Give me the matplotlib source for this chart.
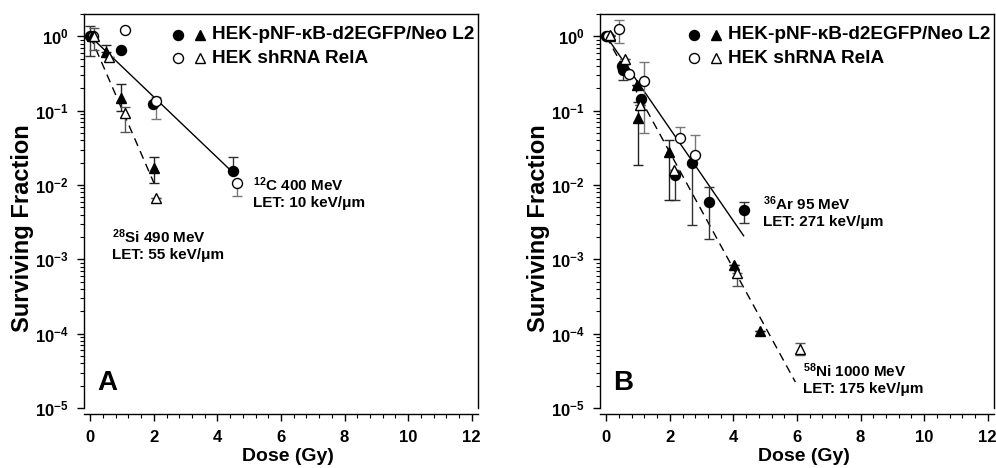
import numpy as np
import matplotlib
matplotlib.use("Agg")
import matplotlib.pyplot as plt
from matplotlib.ticker import LogLocator, MultipleLocator, NullFormatter

nan = np.nan
plt.rcParams['font.family'] = ['Liberation Sans', 'DejaVu Sans']
plt.rcParams['font.weight'] = 'bold'
plt.rcParams['mathtext.fontset'] = 'custom'
plt.rcParams['mathtext.rm'] = 'Liberation Sans:bold'
plt.rcParams['mathtext.bf'] = 'Liberation Sans:bold'
plt.rcParams['mathtext.it'] = 'Liberation Sans:bold'
plt.rcParams['mathtext.default'] = 'bf'

# ---------------- Panel A: 12C (circles) and 28Si (triangles) ----------------
A_C_fill_dose = [0.0, 0.98, 1.98, 4.48]
A_C_fill_sf = [1.0, 0.66, 0.123, 0.0155]
A_C_fill_lo = [0.55, nan, nan, nan]
A_C_fill_hi = [1.40, nan, nan, 0.024]

A_C_open_dose = [0.08, 1.1, 2.08, 4.6]
A_C_open_sf = [1.0, 1.23, 0.136, 0.0108]
A_C_open_lo = [nan, nan, 0.078, 0.0072]
A_C_open_hi = [nan, nan, 0.155, nan]

A_Si_fill_dose = [0.05, 0.48, 0.98, 2.0]
A_Si_fill_sf = [1.0, 0.62, 0.15, 0.017]
A_Si_fill_lo = [nan, nan, 0.10, 0.0105]
A_Si_fill_hi = [nan, 0.76, 0.23, 0.024]

A_Si_open_dose = [0.1, 0.59, 1.08, 2.08]
A_Si_open_sf = [1.0, 0.53, 0.092, 0.0066]
A_Si_open_lo = [0.65, nan, 0.052, nan]
A_Si_open_hi = [1.30, nan, 0.112, nan]

# fits: SF = exp(-alpha * D) over [0, Dmax]
A_fit_alpha = [0.94, 2.27]
A_fit_dmax = [4.48, 2.0]

# ---------------- Panel B: 36Ar (circles) and 58Ni (triangles) ----------------
B_Ar_fill_dose = [0.0, 0.5, 0.52, 1.09, 2.15, 2.7, 3.22, 4.32]
B_Ar_fill_sf = [1.0, 0.40, 0.35, 0.142, 0.0137, 0.0196, 0.006, 0.0046]
B_Ar_fill_lo = [nan, nan, 0.26, nan, 0.0063, 0.0029, 0.0019, 0.0031]
B_Ar_fill_hi = [nan, nan, nan, nan, nan, nan, 0.0095, 0.006]

B_Ar_open_dose = [0.05, 0.41, 0.7, 1.2, 2.31, 2.8]
B_Ar_open_sf = [1.0, 1.24, 0.31, 0.25, 0.043, 0.025]
B_Ar_open_lo = [nan, 0.81, nan, 0.05, nan, nan]
B_Ar_open_hi = [nan, 1.67, nan, 0.45, 0.06, 0.047]

B_Ni_fill_dose = [0.1, 0.55, 0.97, 1.0, 1.96, 4.03, 4.85]
B_Ni_fill_sf = [1.0, 0.43, 0.22, 0.079, 0.028, 0.00085, 0.00011]
B_Ni_fill_lo = [nan, nan, nan, 0.0187, 0.0063, nan, nan]
B_Ni_fill_hi = [nan, nan, nan, 0.13, 0.04, nan, nan]

B_Ni_open_dose = [0.13, 0.6, 1.07, 2.12, 4.12, 6.1]
B_Ni_open_sf = [1.03, 0.49, 0.119, 0.0158, 0.00065, 6.2e-5]
B_Ni_open_lo = [nan, nan, nan, nan, 0.00044, 5.2e-5]
B_Ni_open_hi = [nan, nan, nan, nan, nan, 7.4e-5]

B_fit_alpha = [1.43, 1.80]
B_fit_dmax = [4.32, 5.95]

legend_labels = ["HEK-pNF-\u03baB-d2EGFP/Neo L2", "HEK shRNA RelA"]
x_ticks = [0, 2, 4, 6, 8, 10, 12]

fig = plt.figure(figsize=(9.96, 4.68), dpi=100)
W, H = 996, 468


def add_axes(x0, y0, x1, y1):
    return fig.add_axes([x0 / W, 1 - y1 / H, (x1 - x0) / W, (y1 - y0) / H])


axA = add_axes(84, 14, 478, 408)
axB = add_axes(600, 14, 994, 408)

MS = 7.2


def series(ax, d, sf, lo, hi, marker, filled, ecolor):
    d = np.array(d); sf = np.array(sf); lo = np.array(lo); hi = np.array(hi)
    low = np.where(np.isnan(lo), 0, sf - lo)
    up = np.where(np.isnan(hi), 0, hi - sf)
    ax.errorbar(d, sf, yerr=[low, up], fmt='none', ecolor=ecolor,
                elinewidth=1.0, capsize=3.5, capthick=1.0, zorder=2)
    ax.plot(d, sf, linestyle='none', marker=marker, markersize=MS,
            markerfacecolor='black' if filled else 'white',
            markeredgecolor='black', markeredgewidth=1.0, zorder=3)


def fits(ax, alphas, dmaxs):
    styles = ['-', '--']
    for a, dm, ls in zip(alphas, dmaxs, styles):
        dd = np.linspace(0, dm, 50)
        line, = ax.plot(dd, np.exp(-a * dd), color='black', lw=1.0, zorder=1)
        if ls == '--':
            line.set_dashes((6, 4))


def style(ax, letter):
    ax.set_yscale('log')
    ax.set_xlim(-0.2, 12.2)
    ax.set_ylim(1e-5, 2.0)
    ax.set_xticks(x_ticks)
    ax.set_xticklabels([str(t) for t in x_ticks])
    ax.xaxis.set_minor_locator(MultipleLocator(0.4))
    ax.yaxis.set_major_locator(LogLocator(base=10, numticks=10))
    ax.yaxis.set_minor_locator(LogLocator(base=10, subs=np.arange(2, 10), numticks=50))
    ax.yaxis.set_minor_formatter(NullFormatter())
    ax.tick_params(axis='both', which='major', direction='out', length=5, width=1.0,
                   labelsize=12, pad=5)
    ax.tick_params(axis='both', which='minor', direction='out', length=3, width=0.8)
    ax.tick_params(axis='y', which='major', pad=6)
    ax.tick_params(axis='x', which='major', pad=7)
    ax.spines['bottom'].set_position(('outward', 4))
    for s in ax.spines.values():
        s.set_linewidth(1.0)
    ax.set_xlabel('Dose (Gy)', fontsize=14, fontweight='bold')
    ax.xaxis.set_label_coords(0.5165, -0.1015)
    ax.set_ylabel('Surviving Fraction', fontsize=17, fontweight='bold')
    ax.yaxis.set_label_coords(-0.127, 0.457)
    ax.text(0.033, 0.046, letter, transform=ax.transAxes, fontsize=20,
            fontweight='bold', ha='left', va='baseline')
    # legend
    rows = [(0.947, True), (0.888, False)]
    for (yy, filled), lab in zip(rows, legend_labels):
        fc = 'black' if filled else 'white'
        ax.plot([0.239], [yy], transform=ax.transAxes, marker='o', markersize=MS,
                markerfacecolor=fc, markeredgecolor='black', markeredgewidth=1.0,
                linestyle='none', clip_on=False)
        ax.plot([0.294], [yy], transform=ax.transAxes, marker='^', markersize=MS,
                markerfacecolor=fc, markeredgecolor='black', markeredgewidth=1.0,
                linestyle='none', clip_on=False)
        ax.text(0.325, yy, lab, transform=ax.transAxes, fontsize=13.7,
                fontweight='bold', ha='left', va='center')


# Panel A
fits(axA, A_fit_alpha, A_fit_dmax)
series(axA, A_C_fill_dose, A_C_fill_sf, A_C_fill_lo, A_C_fill_hi, 'o', True, '#333333')
series(axA, A_C_open_dose, A_C_open_sf, A_C_open_lo, A_C_open_hi, 'o', False, '#777777')
series(axA, A_Si_fill_dose, A_Si_fill_sf, A_Si_fill_lo, A_Si_fill_hi, '^', True, '#222222')
series(axA, A_Si_open_dose, A_Si_open_sf, A_Si_open_lo, A_Si_open_hi, '^', False, '#555555')
style(axA, 'A')

# Panel B
fits(axB, B_fit_alpha, B_fit_dmax)
series(axB, B_Ar_fill_dose, B_Ar_fill_sf, B_Ar_fill_lo, B_Ar_fill_hi, 'o', True, '#333333')
series(axB, B_Ar_open_dose, B_Ar_open_sf, B_Ar_open_lo, B_Ar_open_hi, 'o', False, '#777777')
series(axB, B_Ni_fill_dose, B_Ni_fill_sf, B_Ni_fill_lo, B_Ni_fill_hi, '^', True, '#222222')
series(axB, B_Ni_open_dose, B_Ni_open_sf, B_Ni_open_lo, B_Ni_open_hi, '^', False, '#555555')
style(axB, 'B')


def fig_text(x, y, s):
    fig.text(x / W, 1 - y / H, s, fontsize=11, fontweight='bold', ha='left',
             va='center', linespacing=1.15)


# annotations (positions in figure pixels)
fig_text(253, 193, '$^{12}$C 400 MeV\nLET: 10 keV/\u03bcm')
fig_text(112, 245, '$^{28}$Si 490 MeV\nLET: 55 keV/\u03bcm')
fig_text(763, 212, '$^{36}$Ar 95 MeV\nLET: 271 keV/\u03bcm')
fig_text(803, 379, '$^{58}$Ni 1000 MeV\nLET: 175 keV/\u03bcm')

fig.savefig('out.png', dpi=100)
